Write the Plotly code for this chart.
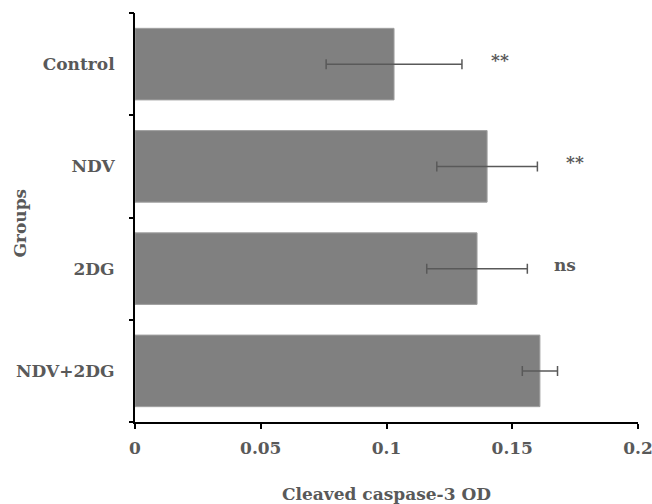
import plotly.graph_objects as go

groups = ["Control", "NDV", "2DG", "NDV+2DG"]
values = [0.103, 0.140, 0.136, 0.161]
errors = [0.027, 0.020, 0.020, 0.007]
signif = ["**", "**", "ns", ""]

FONT = "DejaVu Serif"
TXT = "#595959"

fig = go.Figure()
fig.add_trace(go.Bar(
    x=values, y=groups, orientation="h",
    marker=dict(color="#808080", line=dict(color="#a0a0a0", width=1)),
    width=0.7,
    error_x=dict(type="data", array=errors, visible=True,
                 color="#595959", thickness=1.5, width=5),
))

offset = 0.015
for g, v, e, s in zip(groups, values, errors, signif):
    if s:
        fig.add_annotation(x=v + e + offset, y=g, text="<b>%s</b>" % s,
                           showarrow=False, xanchor="center", yanchor="middle",
                           yshift=4,
                           font=dict(family=FONT, size=17, color=TXT))

# y-axis title placed as an annotation
fig.add_annotation(xref="paper", yref="paper", x=0, y=0.5, xshift=-116, yshift=-6,
                   text="<b>Groups</b>", textangle=-90, showarrow=False,
                   xanchor="center", yanchor="middle",
                   font=dict(family=FONT, size=17, color=TXT))

fig.update_layout(
    width=652, height=504,
    margin=dict(l=135, r=14, t=13, b=82),
    paper_bgcolor="white", plot_bgcolor="white",
    showlegend=False,
    font=dict(family=FONT, color=TXT, size=17),
    xaxis=dict(
        range=[0, 0.2], tickvals=[0, 0.05, 0.1, 0.15, 0.2],
        ticktext=["<b>0</b>", "<b>0.05</b>", "<b>0.1</b>", "<b>0.15</b>", "<b>0.2</b>"],
        showgrid=False, zeroline=False, automargin=False,
        showline=True, linecolor="black", linewidth=2,
        ticks="outside", ticklen=5, tickwidth=2, tickcolor="black",
        ticklabelstandoff=5, ticklabeloverflow="allow",
        tickfont=dict(family=FONT, size=17, color=TXT),
        title=dict(text="<b>Cleaved caspase-3 OD</b>", standoff=34,
                   font=dict(family=FONT, size=17, color=TXT)),
    ),
    yaxis=dict(
        categoryorder="array", categoryarray=groups[::-1],
        range=[-0.5, 3.5], automargin=False,
        tickvals=groups, ticktext=["<b>%s</b>" % g for g in groups],
        showgrid=False, zeroline=False,
        showline=True, linecolor="black", linewidth=2,
        ticks="", ticklen=0,
        tickfont=dict(family=FONT, size=17, color=TXT),
        ticklabelstandoff=15, ticklabeloverflow="allow",
    ),
    yaxis2=dict(
        overlaying="y", range=[-0.5, 3.5], tickvals=[-0.5, 0.5, 1.5, 2.5, 3.5],
        showticklabels=False, ticks="outside", ticklen=5, tickwidth=2,
        tickcolor="black", showgrid=False, zeroline=False, side="left",
        showline=False, automargin=False,
    ),
)

fig.add_trace(go.Scatter(x=[None], y=[None], yaxis="y2", hoverinfo="skip",
                         showlegend=False))

fig.write_html("out.html", config={"displayModeBar": False},
               post_script="document.body.style.margin='0';document.body.style.padding='0';")
